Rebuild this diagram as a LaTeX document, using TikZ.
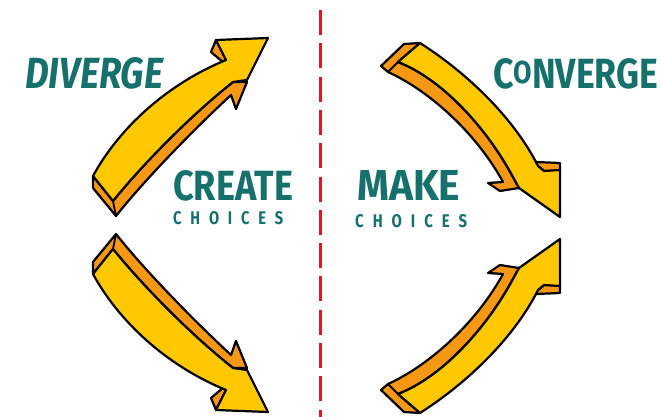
\documentclass[tikz,border=0pt]{standalone}
\usepackage{fontspec}
\setmainfont{Fira Sans}
\usepackage{graphicx}
\definecolor{arryellow}{RGB}{255,200,0}
\definecolor{arrorange}{RGB}{246,152,20}
\definecolor{inkteal}{RGB}{22,112,108}
\definecolor{divred}{RGB}{232,20,30}
\newcommand\spacedchoices{C\hspace{.6em}H\hspace{.6em}O\hspace{.6em}I\hspace{.6em}C\hspace{.6em}E\hspace{.6em}S}
\tikzset{
  side/.style={fill=arrorange, draw=black, line width=2.2pt, line join=round},
  face/.style={fill=arryellow, draw=black, line width=2.2pt, line join=round},
  edgeline/.style={draw=black, line width=1.8pt, line cap=round},
  lbl/.style={text=inkteal, inner sep=0pt, anchor=north west, font=\bfseries},
  divider/.style={draw=divred, line width=3pt, dash pattern=on 25pt off 8.3pt}
}
\begin{document}
\begin{tikzpicture}[x=1pt,y=-1pt]
\useasboundingbox (0,0) rectangle (663,417);
\fill[white] (0,0) rectangle (663,417);
% divider
\coordinate (dtop) at (320,10);
\coordinate (dbot) at (320,417);
\path[divider] (dtop) -- (dbot);
% upper-left arrow (diverge, up)
\path[side] (216,40) -- (211,52) -- (224,63) -- (226,60) -- cycle;
\path[side] (93,176) -- (93,188) -- (116,216) .. controls (142,183) and (190,133) .. (231,95) -- (236,109) -- (247,82) -- (233,82) .. controls (185,120) and (138,170) .. (113,201) -- cycle;
\path[face] (93,176) -- (113,201) .. controls (138,170) and (185,120) .. (233,82) -- (247,80) -- (268,38) -- (216,40) -- (226,60) .. controls (165,85) and (118,130) .. (93,176) -- cycle;
\path[edgeline] (113,201) -- (116,216);
% lower-left arrow (diverge, down)
\path[side] (216,410) -- (211,398) -- (224,387) -- (226,390) -- cycle;
\path[side] (93,274) -- (93,262) -- (116,234) .. controls (142,267) and (190,317) .. (231,355) -- (236,341) -- (247,368) -- (233,368) .. controls (185,330) and (138,280) .. (113,249) -- cycle;
\path[face] (93,274) -- (113,249) .. controls (138,280) and (185,330) .. (233,368) -- (247,370) -- (268,412) -- (216,410) -- (226,390) .. controls (165,365) and (118,320) .. (93,274) -- cycle;
\path[edgeline] (113,249) -- (116,234);
% upper-right arrow (converge, down)
\path[side] (536,162) -- (560,163) -- (560,171) -- (544,171) -- (538,166) -- cycle;
\path[side] (420,43) -- (404,44) -- (381,66) -- (388,72) .. controls (432,92) and (478,136) .. (503,182) -- (488,183) -- (500,191) -- (519,188) -- (513,177) .. controls (485,125) and (440,78) .. (398,62) -- cycle;
\path[face] (420,43) .. controls (470,75) and (515,120) .. (538,166) -- (544,171) -- (560,170) -- (560,217) -- (519,188) -- (513,177) .. controls (485,125) and (440,78) .. (398,62) -- cycle;
\path[edgeline] (398,62) -- (388,72);
% lower-right arrow (converge, up)
\path[side] (536,294) -- (560,293) -- (560,285) -- (544,285) -- (538,290) -- cycle;
\path[side] (420,413) -- (404,412) -- (381,390) -- (388,384) .. controls (432,364) and (478,320) .. (503,274) -- (488,273) -- (500,265) -- (519,268) -- (513,279) .. controls (485,331) and (440,378) .. (398,394) -- cycle;
\path[face] (420,413) .. controls (470,381) and (515,336) .. (538,290) -- (544,285) -- (560,286) -- (560,239) -- (519,268) -- (513,279) .. controls (485,331) and (440,378) .. (398,394) -- cycle;
\path[edgeline] (398,394) -- (388,384);
% labels
\node[lbl] (diverge) at (25,57) {\resizebox{138pt}{31pt}{\itshape DIVERGE}};
\node[lbl] (create) at (173,170) {\resizebox{120pt}{30pt}{CREATE}};
\node[lbl] (choicesL) at (173,211) {\resizebox{110pt}{13pt}{\spacedchoices}};
\node[lbl] (make) at (357,170) {\resizebox{103pt}{30pt}{MAKE}};
\node[lbl] (choicesR) at (355,214) {\resizebox{112pt}{13pt}{\spacedchoices}};
\node[lbl] (converge) at (493,58) {\resizebox{165pt}{30pt}{C\raisebox{.1em}{\scalebox{.75}{O}}NVERGE}};
\end{tikzpicture}
\end{document}
